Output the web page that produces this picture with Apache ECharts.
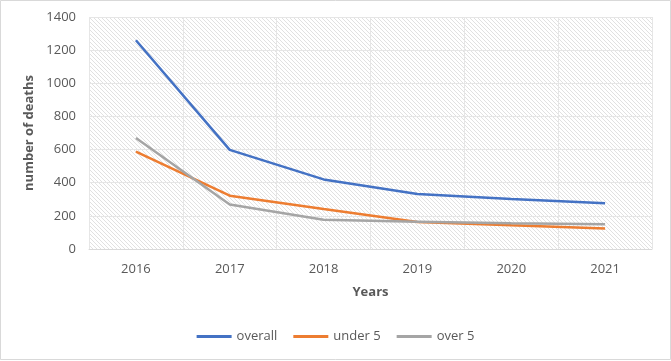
<!DOCTYPE html>
<html><head><meta charset="utf-8">
<script src="https://cdn.jsdelivr.net/npm/echarts@6/dist/echarts.min.js"></script>
<style>html,body{margin:0;padding:0;background:#fff}#c{width:671px;height:361px}</style>
</head><body><div id="c"></div>
<script>
var years = ['2016','2017','2018','2019','2020','2021'];
var overall = [1260, 598, 420, 332, 302, 276];
var under5 = [588, 322, 242, 163, 143, 124];
var over5 = [670, 268, 176, 165, 155, 150];
var yTicks = {min:0, max:1400, interval:200};

var pc = document.createElement('canvas');
pc.width=8;pc.height=8;
var g = pc.getContext('2d');
g.fillStyle='#fff';g.fillRect(0,0,8,8);
g.strokeStyle='#dedede';g.lineWidth=0.9;
[-8,-4,0,4,8].forEach(function(o){g.beginPath();g.moveTo(o,0);g.lineTo(o+8,8);g.stroke();});

var chart = echarts.init(document.getElementById('c'));
var FF = 'Open Sans, Noto Sans, sans-serif';
var axisLabel = {color:'#595959', fontSize:13, fontFamily:FF};
chart.setOption({
  backgroundColor:'#fff',
  animation:false,
  graphic:[{type:'rect', shape:{x:0.5,y:0.5,width:670,height:359}, style:{fill:'none', stroke:'#d9d9d9', lineWidth:1}, z:-1}],
  grid:{left:89, right:19, top:17, bottom:112, show:true, backgroundColor:{image:pc, repeat:'repeat'}, borderWidth:0},
  legend:{top:325, left:'center', itemWidth:35, itemHeight:3, itemGap:16, icon:'rect',
    textStyle:{color:'#595959', fontSize:13, fontFamily:FF},
    data:['overall','under 5','over 5']},
  xAxis:{type:'category', data:years, boundaryGap:true, name:'Years', nameLocation:'middle', nameGap:37,
    nameTextStyle:{color:'#595959', fontWeight:'bold', fontSize:13, fontFamily:FF},
    axisLine:{lineStyle:{color:'#d9d9d9'}}, axisTick:{show:false}, axisLabel:Object.assign({margin:14},axisLabel),
    splitLine:{show:true, interval:0, lineStyle:{color:'#e6e6e6'}}},
  yAxis:{type:'value', min:yTicks.min, max:yTicks.max, interval:yTicks.interval, name:'number of deaths', nameLocation:'middle', nameGap:47,
    nameTextStyle:{color:'#595959', fontWeight:'bold', fontSize:13, fontFamily:FF},
    axisLine:{show:false}, axisTick:{show:false},
    axisLabel:Object.assign({margin:13, formatter:function(v){return String(v);}},axisLabel),
    splitLine:{lineStyle:{color:'#e6e6e6'}}},
  series:[
    {name:'overall', type:'line', data:overall, symbol:'none', lineStyle:{width:2.5, color:'#4472C4'}, itemStyle:{color:'#4472C4'}},
    {name:'under 5', type:'line', data:under5, symbol:'none', lineStyle:{width:2.5, color:'#ED7D31'}, itemStyle:{color:'#ED7D31'}},
    {name:'over 5', type:'line', data:over5, symbol:'none', lineStyle:{width:2.5, color:'#A5A5A5'}, itemStyle:{color:'#A5A5A5'}}
  ]
});
</script></body></html>
